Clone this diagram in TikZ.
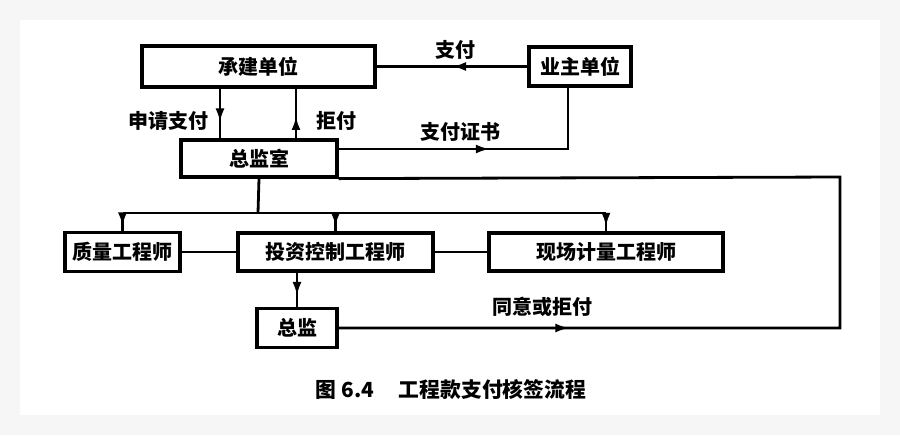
\documentclass[tikz,border=0pt]{standalone}
\usepackage{fontspec}
\setmainfont{Noto Sans CJK SC}
\usetikzlibrary{arrows.meta,decorations.markings}
\tikzset{
    box/.style = {
        draw,
        line width = 1.6pt,
        inner sep  = 0pt,
        font       = \bfseries,
    },
    rotulo/.style = {
        font      = \bfseries,
        inner sep = 0pt,
    },
    link/.style = {
        line width = 1.4pt,
    },
    midarrow/.style = {
        postaction = {decorate},
        decoration = {markings, mark=at position #1 with {\arrow{Latex[length=7pt,width=4.5pt]}}},
    },
}

\begin{document}
\begin{tikzpicture}[x=0.5pt,y=-0.5pt]
  % Fundo
  \fill[gray!7] (0,0) rectangle (900,435);
  \fill[white] (20,20) rectangle (880,415);
  \useasboundingbox (0,0) rectangle (900,435);

  % Caixas
  \node[box,minimum width=116.5pt,minimum height=20.5pt] (Chengjian) at (258.5,66.5) {承建单位};
  \node[box,minimum width=51pt,minimum height=19.5pt] (Yezhu) at (580,66.5) {业主单位};
  \node[box,minimum width=78pt,minimum height=18.5pt] (Zongjianshi) at (259,158.5) {总监室};
  \node[box,minimum width=57.5pt,minimum height=19.5pt] (Zhiliang) at (122.5,252) {质量工程师};
  \node[box,minimum width=97.5pt,minimum height=19pt] (Touzi) at (335.5,252) {投资控制工程师};
  \node[box,minimum width=117pt,minimum height=19pt] (Xianchang) at (606,252) {现场计量工程师};
  \node[box,minimum width=40pt,minimum height=19.5pt] (Zongjian) at (297,328) {总监};

  \coordinate (XSq) at (220,0);
  \coordinate (XJf) at (296,0);
  \coordinate (Zhengshu) at (568,149);
  \coordinate (Fenzhi) at (258,213);
  \coordinate (Youxia) at (840,328);
  \coordinate (Youshang) at (840,177);

  % Pagamento
  \draw[link,midarrow=0.5] (Yezhu) -- (Chengjian);
  \draw[link,midarrow=0.68] (XSq |- Chengjian.south) -- (XSq |- Zongjianshi.north);
  \draw[link,midarrow=0.45] (XJf |- Zongjianshi.north) -- (XJf |- Chengjian.south);
  \draw[link,midarrow=0.52] (Zongjianshi.east |- Zhengshu) -- (Zhengshu) -- (Zhengshu |- Yezhu.south);

  % Engenheiros
  \draw[link] (Zongjianshi.south) -- (Fenzhi);
  \draw[link] (Fenzhi -| Zhiliang.north) -- (Fenzhi -| Xianchang.north);
  \foreach \n in {Zhiliang,Touzi,Xianchang}
    \draw[link,midarrow=0.75] (Fenzhi -| \n.north) -- (\n.north);
  \draw[link] (Zhiliang) -- (Touzi);
  \draw[link] (Touzi) -- (Xianchang);
  \draw[link,midarrow=0.68] (Touzi.south -| Zongjian.north) -- (Zongjian.north);

  % Retorno
  \draw[link,midarrow=0.2] (Zongjian.east) -- (Youxia) -- (Youshang) -- (Zongjianshi.south east);

  % Rotulos
  \node[rotulo] (LZhifu) at (455,50) {支付};
  \node[rotulo] (LShenqing) at (168,121) {申请支付};
  \node[rotulo] (LJufu) at (336,121) {拒付};
  \node[rotulo] (LZhengshu) at (460,132) {支付证书};
  \node[rotulo] (LTongyi) at (542,307) {同意或拒付};

  \node[rotulo,font=\bfseries\fontsize{10.4pt}{12pt}\selectfont] (Legenda) at (451,390) {图 6.4\hspace{1.2em}工程款支付核签流程};
\end{tikzpicture}
\end{document}
